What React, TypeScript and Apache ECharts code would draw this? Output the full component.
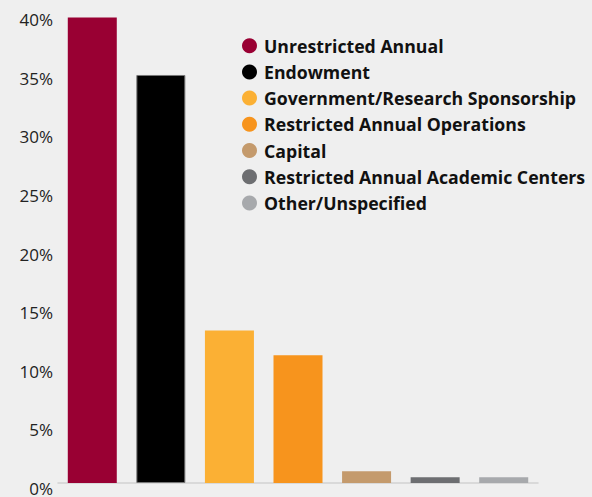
import React, { useEffect, useRef } from "react";
import * as echarts from "echarts";

const categories = [
  "Unrestricted Annual",
  "Endowment",
  "Government/Research Sponsorship",
  "Restricted Annual Operations",
  "Capital",
  "Restricted Annual Academic Centers",
  "Other/Unspecified",
];
const values = [39.7, 34.8, 13.0, 10.9, 1.0, 0.5, 0.5];
const palette = ["#990033", "#000000", "#fbb034", "#f7941d", "#c49a6c", "#6d6e71", "#a7a9ac"];
const yTicks = [0, 5, 10, 15, 20, 25, 30, 35, 40];

export default function App() {
  const ref = useRef<HTMLDivElement>(null);
  useEffect(() => {
    document.body.style.margin = "0";
    const chart = echarts.init(ref.current!, null, { renderer: "svg" });
    const series = categories.map((name, i) => ({
      name,
      type: "bar",
      barWidth: 49,
      barGap: "-100%",
      itemStyle: {
        color: palette[i],
        borderColor: i === 1 ? "#777" : undefined,
        borderWidth: i === 1 ? 1 : 0,
      },
      data: categories.map((_, j) => (j === i ? values[i] : null)),
    }));
    chart.setOption({
      animation: false,
      backgroundColor: "#efefef",
      grid: { left: 58, right: 54, top: 14, bottom: 14, containLabel: false },
      legend: {
        orient: "vertical",
        left: 237,
        top: 31.7,
        icon: "circle",
        itemWidth: 15,
        itemHeight: 15,
        itemGap: 8.2,
        selectedMode: false,
        itemStyle: { borderWidth: 0 },
        textStyle: {
          fontFamily: "Open Sans",
          fontSize: 17.7,
          fontWeight: 700,
          color: "#111",
          padding: [0, 0, 0, 2],
        },
        data: categories,
      },
      xAxis: {
        type: "category",
        data: categories,
        offset: 4,
        axisLine: { lineStyle: { color: "#d2d2d2", width: 1.5 } },
        axisTick: { inside: true, length: 11, lineStyle: { color: "#d6d6d6", width: 1.5 } },
        axisLabel: { show: false },
        splitLine: { show: false },
      },
      yAxis: {
        type: "value",
        min: yTicks[0],
        max: yTicks[yTicks.length - 1],
        interval: 5,
        axisLine: { show: false },
        axisTick: { show: false },
        splitLine: { show: false },
        axisLabel: {
          formatter: "{value}%",
          margin: 5,
          fontFamily: "Open Sans",
          fontSize: 17,
          color: "#222",
          verticalAlign: "top",
          lineHeight: 11,
        },
      },
      series,
    });
    return () => chart.dispose();
  }, []);
  return <div ref={ref} style={{ width: 592, height: 497 }} />;
}
